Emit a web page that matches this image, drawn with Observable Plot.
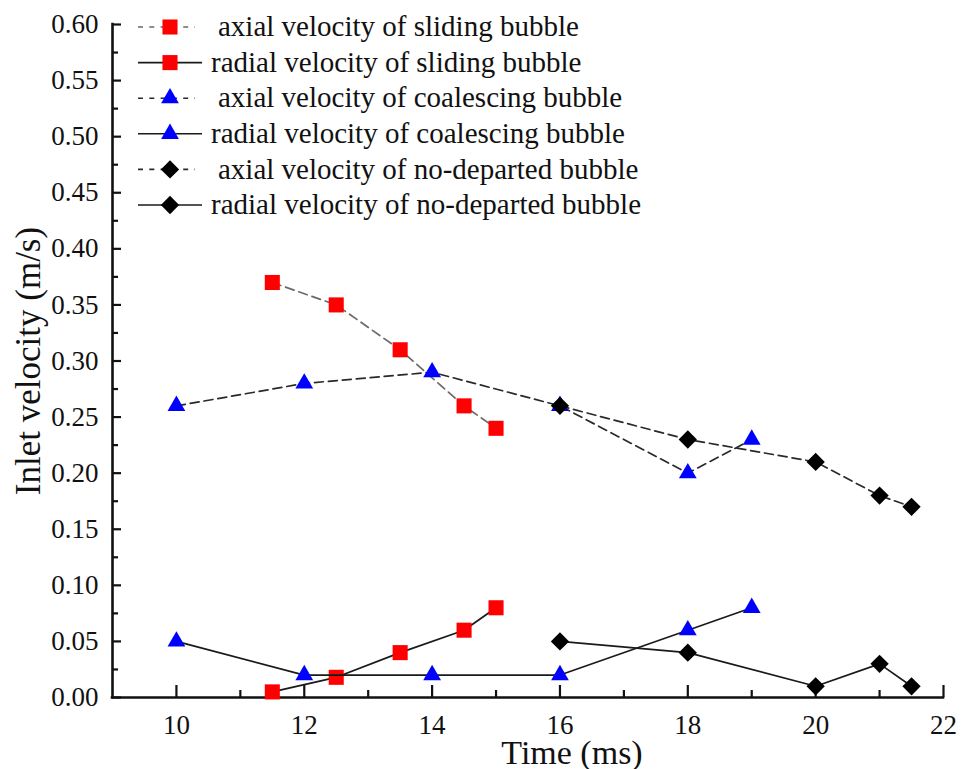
<!DOCTYPE html>
<html>
<head>
<meta charset="utf-8">
<script src="https://cdn.jsdelivr.net/npm/d3@7"></script>
<script src="https://cdn.jsdelivr.net/npm/@observablehq/plot@0.6"></script>
<style>
  body { margin: 0; background: #fff; }
</style>
</head>
<body>
<div id="chart"></div>
<script>
// Inlet velocity components of three bubble types over time
const slidingTime   = [11.5, 12.5, 13.5, 14.5, 15];
const slidingAxial  = [0.37, 0.35, 0.31, 0.26, 0.24];
const slidingRadial = [0.005, 0.018, 0.04, 0.06, 0.08];

const coalescingTime   = [10, 12, 14, 16, 18, 19];
const coalescingAxial  = [0.26, 0.28, 0.29, 0.26, 0.20, 0.23];
const coalescingRadial = [0.05, 0.02, 0.02, 0.02, 0.06, 0.08];

const noDepartedTime   = [16, 18, 20, 21, 21.5];
const noDepartedAxial  = [0.26, 0.23, 0.21, 0.18, 0.17];
const noDepartedRadial = [0.05, 0.04, 0.01, 0.03, 0.01];

const xTicks = [10, 12, 14, 16, 18, 20, 22];
const xMinorTicks = [11, 13, 15, 17, 19, 21];
const yTicks = [0, 0.05, 0.10, 0.15, 0.20, 0.25, 0.30, 0.35, 0.40, 0.45, 0.50, 0.55, 0.60];
const yMinorTicks = [0.025, 0.075, 0.125, 0.175, 0.225, 0.275, 0.325, 0.375, 0.425, 0.475, 0.525, 0.575];

const xTitle = "Time (ms)";
const yTitle = "Inlet velocity (m/s)";

const seriesNames = [
  "axial velocity of sliding bubble",
  "radial velocity of sliding bubble",
  "axial velocity of coalescing bubble",
  "radial velocity of coalescing bubble",
  "axial velocity of no-departed bubble",
  "radial velocity of no-departed bubble"
];

const toRows = (t, v) => t.map((x, i) => ({t: x, v: v[i]}));

// marker styles per bubble type
const squareStyle   = {symbol: "square",   d3symbol: d3.symbolSquare,   r: 8.5, rotate: 0,  fill: "#ff0000"};
const triangleStyle = {symbol: "triangle", d3symbol: d3.symbolTriangle, r: 6.6, rotate: 0,  fill: "#0000ff"};
const diamondStyle  = {symbol: "square",   d3symbol: d3.symbolSquare,   r: 7.3, rotate: 45, fill: "#000000"};

const series = [
  {name: seriesNames[0], rows: toRows(slidingTime, slidingAxial),        marker: squareStyle,   axial: true,  line: "#6a6a6a"},
  {name: seriesNames[1], rows: toRows(slidingTime, slidingRadial),       marker: squareStyle,   axial: false, line: "#1a1a1a"},
  {name: seriesNames[2], rows: toRows(coalescingTime, coalescingAxial),  marker: triangleStyle, axial: true,  line: "#2a2a2a"},
  {name: seriesNames[3], rows: toRows(coalescingTime, coalescingRadial), marker: triangleStyle, axial: false, line: "#1a1a1a"},
  {name: seriesNames[4], rows: toRows(noDepartedTime, noDepartedAxial),  marker: diamondStyle,  axial: true,  line: "#2a2a2a"},
  {name: seriesNames[5], rows: toRows(noDepartedTime, noDepartedRadial), marker: diamondStyle,  axial: false, line: "#1a1a1a"}
];

const seriesMarks = series.flatMap(s => [
  Plot.line(s.rows, {
    x: "t", y: "v",
    stroke: s.line, strokeWidth: 1.7,
    strokeDasharray: s.axial ? "9,5" : null
  }),
  Plot.dot(s.rows, {
    x: "t", y: "v",
    symbol: s.marker.symbol, r: s.marker.r, rotate: s.marker.rotate,
    fill: s.marker.fill, stroke: "none"
  })
]);

const chart = Plot.plot({
  width: 967,
  height: 769,
  marginLeft: 112,
  marginRight: 24,
  marginTop: 24,
  marginBottom: 72,
  style: {fontFamily: "'Liberation Serif', 'Times New Roman', serif", fontSize: "27px", color: "#111", background: "#fff"},
  x: {domain: [9, 22]},
  y: {domain: [0, 0.6]},
  marks: [
    // tick labels
    Plot.axisX({ticks: xTicks, tickSize: 0, tickPadding: 17, label: null, fontSize: 27}),
    Plot.axisY({ticks: yTicks, tickSize: 0, tickPadding: 14, tickFormat: d3.format(".2f"), label: null, fontSize: 27}),
    // inward-pointing tick marks
    Plot.axisX({ticks: xTicks, tickSize: -12, fill: "none", label: null, strokeWidth: 2.2}),
    Plot.axisX({ticks: xMinorTicks, tickSize: -7, fill: "none", label: null, strokeWidth: 2.2}),
    Plot.axisY({ticks: yTicks, tickSize: -9, fill: "none", label: null, strokeWidth: 2.2}),
    Plot.axisY({ticks: yMinorTicks, tickSize: -6, fill: "none", label: null, strokeWidth: 2.2}),
    // axis lines
    Plot.ruleX([9], {stroke: "#111", strokeWidth: 2.6, strokeLinecap: "square"}),
    Plot.ruleY([0], {stroke: "#111", strokeWidth: 2.6, strokeLinecap: "square"}),
    // axis titles
    Plot.text([xTitle], {frameAnchor: "bottom", dx: 44, dy: 66, lineAnchor: "bottom", textAnchor: "middle", fontSize: 34, fill: "#111"}),
    Plot.text([yTitle], {frameAnchor: "left", dx: -73, rotate: -90, lineAnchor: "bottom", textAnchor: "middle", fontSize: 35, fill: "#111"}),
    ...seriesMarks
  ]
});

document.getElementById("chart").appendChild(chart);

// legend in the upper-left corner of the plot area
const legend = d3.select(chart).append("g")
  .attr("font-size", 29)
  .attr("text-anchor", "start")
  .attr("fill", "#111");
const legendTop = 27, legendStep = 35.6;
series.forEach((s, i) => {
  const cy = legendTop + i * legendStep;
  legend.append("line")
    .attr("x1", 138).attr("x2", s.axial ? 195 : 202)
    .attr("y1", cy).attr("y2", cy)
    .attr("stroke", s.line).attr("stroke-width", 1.6)
    .attr("stroke-dasharray", s.axial ? "5,6.3" : null);
  legend.append("path")
    .attr("d", d3.symbol(s.marker.d3symbol, Math.PI * s.marker.r * s.marker.r)())
    .attr("transform", `translate(170,${cy}) rotate(${s.marker.rotate})`)
    .attr("fill", s.marker.fill);
  legend.append("text")
    .attr("x", s.axial ? 218 : 211)
    .attr("y", cy)
    .attr("dy", "0.32em")
    .attr("text-anchor", "start")
    .text(s.name);
});
</script>
</body>
</html>
